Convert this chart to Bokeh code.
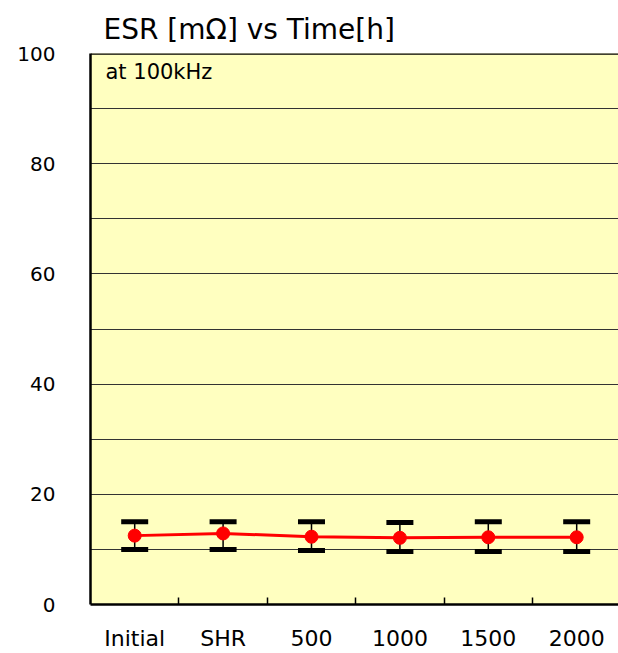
from bokeh.plotting import figure
from bokeh.models import Range1d, FixedTicker, Label, Span, CustomJSTickFormatter
from bokeh.embed import file_html
from bokeh.resources import INLINE

# ---- data ----
categories = ["Initial", "SHR", "500", "1000", "1500", "2000"]
esr_mean = [12.5, 12.9, 12.3, 12.1, 12.2, 12.2]
esr_max = [15.0, 15.0, 15.0, 14.9, 15.0, 15.0]
esr_min = [10.0, 10.0, 9.8, 9.6, 9.6, 9.6]
y_ticks = [0, 20, 40, 60, 80, 100]
grid_levels = [10, 20, 30, 40, 50, 60, 70, 80, 90]
title_text = "ESR [m\u03a9] vs Time[h]"
note_text = "at 100kHz"

xs = [i + 0.5 for i in range(len(categories))]
boundaries = list(range(1, len(categories)))

FONT = "DejaVu Sans"

p = figure(width=618, height=653, output_backend="svg", toolbar_location=None,
           x_range=Range1d(0, 5.973), y_range=Range1d(0, 100),
           min_border_left=90, min_border_right=0, min_border_top=53,
           min_border_bottom=48, title=title_text)

p.background_fill_color = "#FFFFC0"
p.border_fill_color = "white"
p.outline_line_color = None

p.title.text_font = FONT
p.title.text_font_size = "28px"
p.title.text_font_style = "normal"
p.title.text_color = "black"
p.title.align = "left"
p.title.offset = 13
p.title.standoff = 16

# grid
p.xgrid.visible = False
p.ygrid.ticker = FixedTicker(ticks=grid_levels)
p.ygrid.grid_line_color = "#333333"
p.ygrid.grid_line_width = 1

# y axis
p.yaxis.ticker = FixedTicker(ticks=y_ticks)
p.yaxis.major_tick_in = 0
p.yaxis.major_tick_out = 0
p.yaxis.minor_tick_line_color = None
p.yaxis.axis_line_color = "black"
p.yaxis.axis_line_width = 2.5
p.yaxis.major_label_text_font = FONT
p.yaxis.major_label_text_font_size = "20px"
p.yaxis.major_label_text_color = "black"
p.yaxis.major_label_standoff = 35

# x axis
p.xaxis.ticker = FixedTicker(ticks=xs, minor_ticks=boundaries)
p.xaxis.formatter = CustomJSTickFormatter(args=dict(labels=categories),
                                          code="return labels[Math.floor(tick)];")
p.xaxis.major_tick_in = 0
p.xaxis.major_tick_out = 0
p.xaxis.minor_tick_in = 7
p.xaxis.minor_tick_out = 0
p.xaxis.minor_tick_line_color = "black"
p.xaxis.minor_tick_line_width = 1.5
p.xaxis.axis_line_color = "black"
p.xaxis.axis_line_width = 2.5
p.xaxis.major_label_text_font = FONT
p.xaxis.major_label_text_font_size = "22px"
p.xaxis.major_label_text_color = "black"
p.xaxis.major_label_standoff = 21

# top border
p.add_layout(Span(location=100, dimension="width", line_color="black", line_width=2.5))

# note
p.add_layout(Label(x=0, y=100, x_offset=15, y_offset=-6, text=note_text,
                   text_baseline="top", text_font=FONT, text_font_size="21px",
                   text_color="black"))

# error bars
p.segment(x0=xs, y0=esr_min, x1=xs, y1=esr_max, line_color="black", line_width=1.5)
p.rect(x=xs + xs, y=esr_max + esr_min, width=27, height=5,
       width_units="screen", height_units="screen",
       fill_color="black", line_color=None)

# mean line
p.line(xs, esr_mean, line_color="#FF0000", line_width=3)
p.scatter(xs, esr_mean, size=13, fill_color="#FF0000", line_color="#FF0000")

open("out.html", "w").write(file_html(p, INLINE))
